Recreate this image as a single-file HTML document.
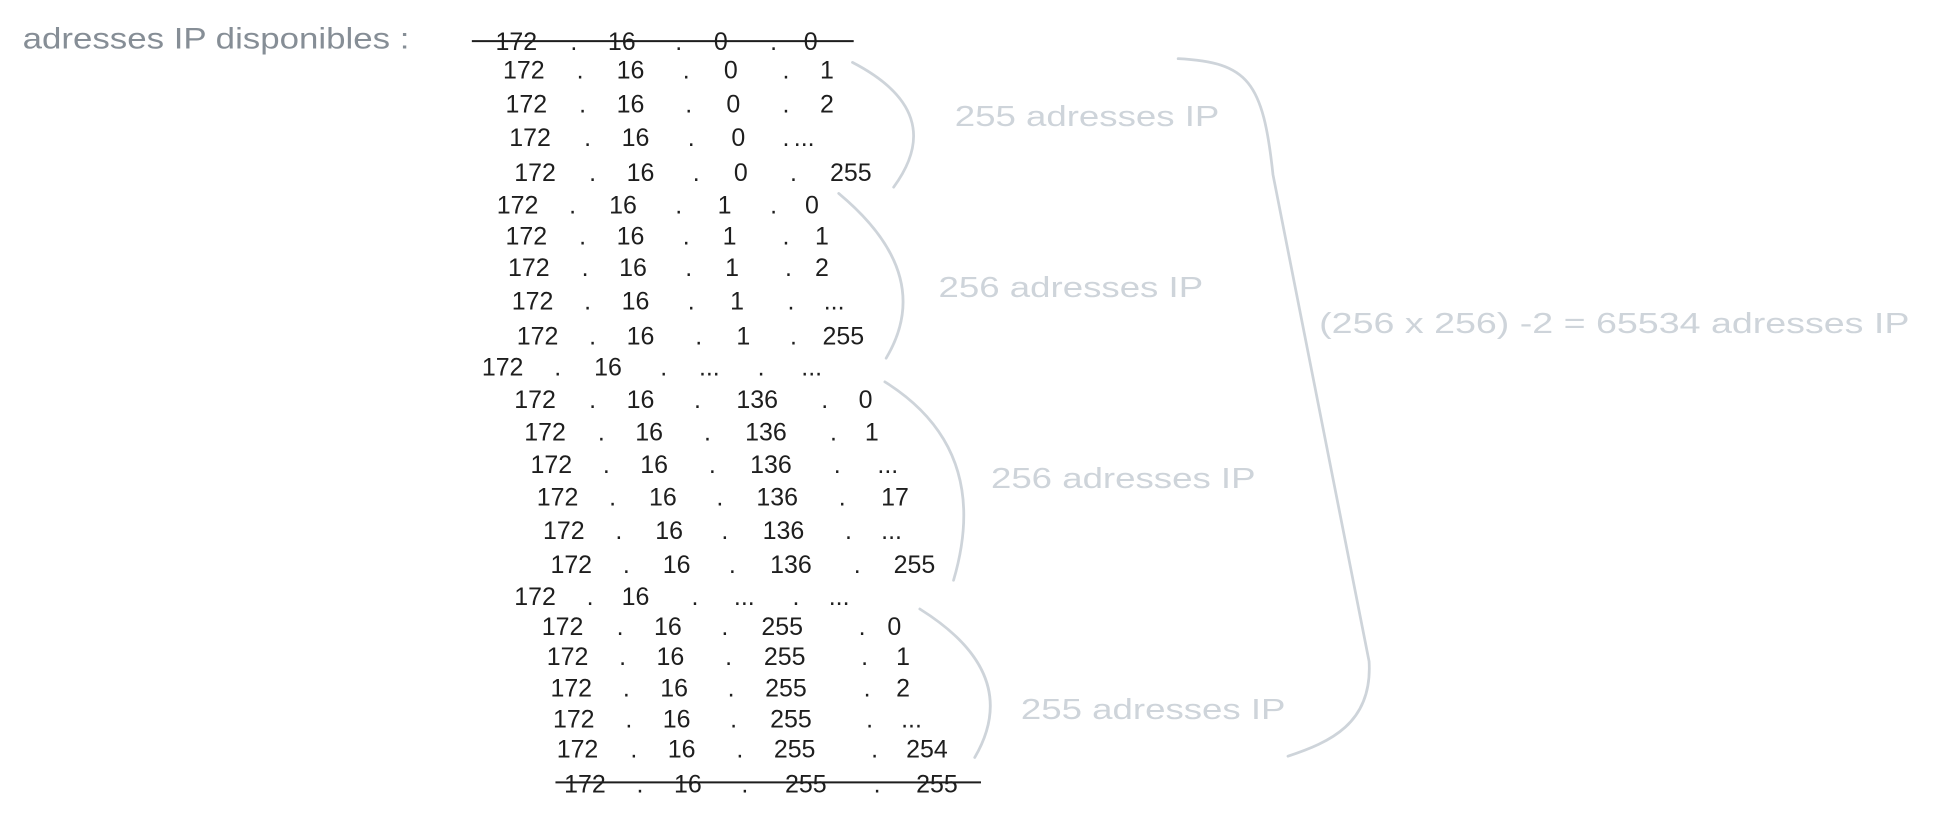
<!DOCTYPE html>
<html><head><meta charset="utf-8"><style>
html,body{margin:0;padding:0;background:#fff;width:1947px;height:818px;overflow:hidden}
svg{display:block}
text{font-family:"Liberation Sans",sans-serif}
.n{font-size:20px;fill:#1e1e1e}
.g{font-size:23px;fill:#ced4da}
</style></head><body>
<svg width="1947" height="818" viewBox="0 0 1560 655.5" xmlns="http://www.w3.org/2000/svg">
<text x="18" y="39" style="font-size:24px;fill:#868e96" textLength="310" lengthAdjust="spacingAndGlyphs">adresses IP disponibles :</text>
<g class="n" id="rows"></g>
<line x1="378" y1="33" x2="684" y2="33" stroke="#1e1e1e" stroke-width="1.6"/>
<line x1="445" y1="627" x2="786" y2="627" stroke="#1e1e1e" stroke-width="1.6"/>
<g fill="none" stroke="#ced4da" stroke-width="2.2" stroke-linecap="round">
<path d="M683 50 Q760 90 716 150"/>
<path d="M672 155 Q750 220 710 287"/>
<path d="M709 306 Q795 360 764 465"/>
<path d="M737 488 Q820 540 781 607"/>
<path d="M944 47 C1000 50 1012 65 1020 140 L1097 530 C1100 580 1065 595 1032 606"/>
</g>
<text class="g" x="765" y="101" textLength="212" lengthAdjust="spacingAndGlyphs">255 adresses IP</text>
<text class="g" x="752" y="238" textLength="212" lengthAdjust="spacingAndGlyphs">256 adresses IP</text>
<text class="g" x="794" y="391" textLength="212" lengthAdjust="spacingAndGlyphs">256 adresses IP</text>
<text class="g" x="818" y="576" textLength="212" lengthAdjust="spacingAndGlyphs">255 adresses IP</text>
<text class="g" x="1057" y="267" textLength="473" lengthAdjust="spacingAndGlyphs">(256 x 256) -2 = 65534 adresses IP</text>
</svg>
<script>
var R=[
[33,397,457,487,541,572,617,644,"0","0"],
[56,403,462,494,547,580,627,657,"0","1"],
[83,405,464,494,549,582,627,657,"0","2"],
[110,408,468,498,551,586,627,636,"0","..."],
[138,412,472,502,555,588,633,665,"0","255"],
[164,398,456,488,541,575,617,645,"1","0"],
[189,405,464,494,547,579,627,653,"1","1"],
[214,407,466,496,549,581,629,653,"1","2"],
[241,410,468,498,551,585,631,660,"1","..."],
[269,414,472,502,557,590,633,659,"1","255"],
[294,386,444,476,529,560,607,642,"...","..."],
[320,412,472,502,556,590,658,688,"136","0"],
[346,420,479,509,564,597,665,693,"136","1"],
[372,425,483,513,568,601,668,703,"136","..."],
[398,430,488,520,574,606,672,706,"136","17"],
[425,435,493,525,578,611,677,706,"136","..."],
[452,441,499,531,584,617,684,716,"136","255"],
[478,412,470,498,554,588,635,664,"...","..."],
[502,434,494,524,578,610,688,711,"255","0"],
[526,438,496,526,581,612,690,718,"255","1"],
[551,441,499,529,583,613,692,718,"255","2"],
[576,443,501,531,585,617,694,722,"255","..."],
[600,446,505,535,590,620,698,726,"255","254"],
[628,452,510,540,594,629,700,734,"255","255"]];
var g=document.getElementById('rows'),h='';
R.forEach(function(r){var y=r[0]+7;
var t=["172",".","16",".",r[8],".",r[9]];
for(var i=0;i<7;i++){h+='<text x="'+r[i+1]+'" y="'+y+'">'+t[i]+'</text>';}});
g.innerHTML=h;
</script>
</body></html>
